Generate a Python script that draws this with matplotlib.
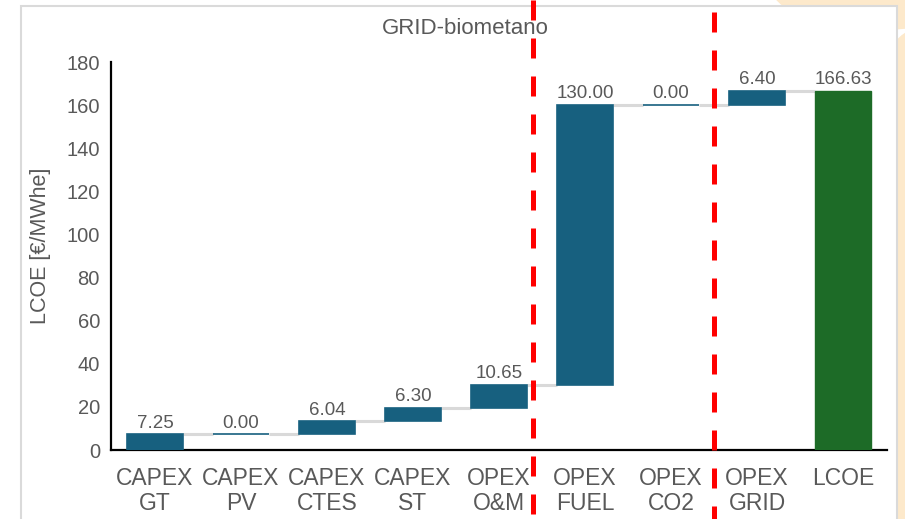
import matplotlib
matplotlib.use("Agg")
import matplotlib.pyplot as plt
import matplotlib.transforms as mtransforms
from matplotlib.patches import Rectangle, Ellipse
import numpy as np

# --- DATA ---
categories = ["CAPEX\nGT", "CAPEX\nPV", "CAPEX\nCTES", "CAPEX\nST", "OPEX\nO&M",
              "OPEX\nFUEL", "OPEX\nCO2", "OPEX\nGRID", "LCOE"]
steps = [7.25, 0.00, 6.04, 6.30, 10.65, 130.00, 0.00, 6.40]
total = 166.63
yticks = [0, 20, 40, 60, 80, 100, 120, 140, 160, 180]
split_lines = [4.4, 6.5]  # red dashed separators (x in category units)

# --- STYLE ---
plt.rcParams['font.family'] = ['Liberation Sans', 'DejaVu Sans']
grey_txt = '#595959'
blue = '#17607F'
green = '#1D6B27'
conn = '#D9D9D9'

W, H = 905, 519
fig = plt.figure(figsize=(W / 100, H / 100), dpi=100)
fig.patch.set_facecolor('white')

# slide background bits (faint peach shapes) + light grey frame
for cx, cy, rx, ry in [(880, -15, 110, 45), (915, 120, 40, 90), (915, 300, 40, 110), (915, 470, 40, 90)]:
    fig.add_artist(Ellipse((cx / W, 1 - cy / H), 2 * rx / W, 2 * ry / H,
                           transform=fig.transFigure, facecolor='#FDE9CB',
                           edgecolor='none', zorder=0.1))
fig.add_artist(Rectangle((21 / W, -0.05), (897 - 21) / W, 1.05 - 6 / H,
                         transform=fig.transFigure, facecolor='white',
                         edgecolor='#DADADA', linewidth=1.5, zorder=0.5))

ax = fig.add_axes([111 / W, (H - 450) / H, (887 - 111) / W, (450 - 62) / H])
ax.set_zorder(1)
ax.patch.set_alpha(0)

x = np.arange(len(categories))
bottoms = np.concatenate([[0], np.cumsum(steps)[:-1]])
width = 0.65

# step bars
ax.bar(x[:-1], steps, bottom=bottoms, width=width, color=blue,
       edgecolor=blue, linewidth=1.2, zorder=3)
# total bar
ax.bar(x[-1], total, width=width, color=green, edgecolor=green,
       linewidth=1.0, zorder=3)

# connectors
levels = np.cumsum(steps)
for i, lvl in enumerate(levels):
    ax.plot([x[i] + width / 2, x[i + 1] - width / 2], [lvl, lvl],
            color=conn, linewidth=2.2, solid_capstyle='butt', zorder=2)

# value labels
tops = list(bottoms + np.array(steps)) + [total]
vals = steps + [total]
for xi, top, v in zip(x, tops, vals):
    ax.annotate(f"{v:.2f}", (xi, top), xytext=(0, 2), textcoords='offset points',
                ha='center', va='bottom', fontsize=13.5, color=grey_txt)

# red dashed separators (extend beyond the axes)
trans = mtransforms.blended_transform_factory(ax.transData, ax.transAxes)
ax.plot([split_lines[0]] * 2, [1.16, -0.18], transform=trans, clip_on=False,
        color='#FF0000', linewidth=3.6, linestyle=(0, (4, 3.6)), zorder=5)
ax.plot([split_lines[1]] * 2, [1.129, -0.18], transform=trans, clip_on=False,
        color='#FF0000', linewidth=3.6, linestyle=(0, (4, 3.6)), zorder=5)

# axes
ax.set_xlim(-0.51, 8.51)
ax.set_ylim(0, 180)
ax.set_yticks(yticks)
ax.set_xticks(x)
ax.set_xticklabels(categories, linespacing=1.15)
ax.tick_params(axis='x', length=0, pad=12, labelsize=16.5, labelcolor=grey_txt)
ax.tick_params(axis='y', length=0, pad=8, labelsize=14.5, labelcolor=grey_txt)
for s in ['top', 'right']:
    ax.spines[s].set_visible(False)
for s in ['left', 'bottom']:
    ax.spines[s].set_linewidth(1.6)
    ax.spines[s].set_color('black')
ax.set_ylabel("LCOE [€/MWhe]", fontsize=15.5, color=grey_txt)
ax.yaxis.set_label_coords(-0.077, 0.525)

fig.text(465 / W, 1 - 28 / H, "GRID-biometano", ha='center', va='center',
         fontsize=16, color=grey_txt)

fig.savefig("out.png", dpi=100)
